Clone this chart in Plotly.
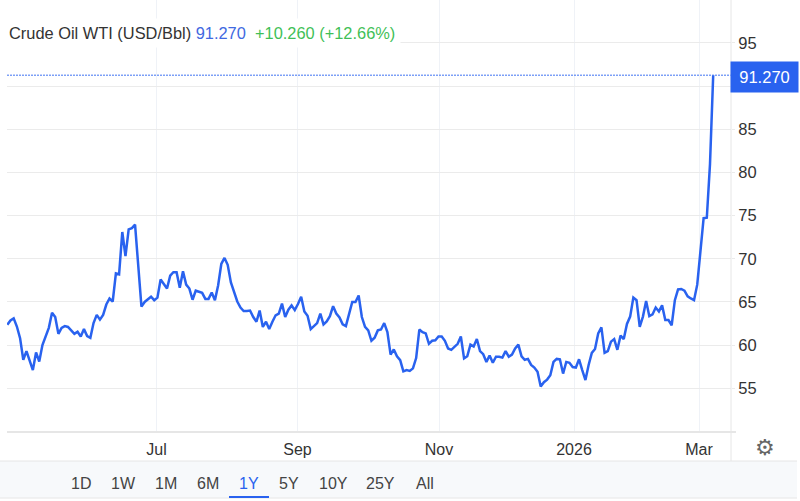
import plotly.graph_objects as go

W, H = 800, 501
LEFT, RIGHT, BOTTOM = 7, 731, 432

BLUE = '#2962ef'
GRID = '#ebebeb'
VGRID = '#eff2f7'
AXIS = '#e6e6e6'
TEXT = '#333333'

# daily close
values = [
    62.35, 62.85, 63.1, 62.15, 60.8, 58.3, 59.3, 58.3, 57.1, 59.15, 58.1, 60.0, 61.0, 62.0, 63.75, 63.25,
    61.3, 62.0, 62.2, 62.1, 61.7, 61.3, 61.55, 61.0, 61.85, 61.05, 60.85, 62.55, 63.5, 62.95, 63.5, 64.7,
    65.4, 65.05, 68.3, 68.2, 73.1, 70.3, 73.4, 73.55, 73.95, 68.7, 64.45, 65.0, 65.3, 65.6, 65.2, 65.5,
    67.6, 67.0, 66.55, 68.05, 68.45, 68.45, 66.65, 68.55, 67.0, 66.55, 65.25, 66.3, 66.15, 66.05, 65.35,
    65.35, 66.1, 65.2, 66.9, 69.4, 70.1, 69.3, 67.25, 66.2, 65.05, 64.35, 63.95, 63.95, 64.0, 63.25, 62.7,
    64.0, 62.1, 62.7, 61.85, 62.7, 63.45, 63.65, 64.8, 63.25, 64.1, 64.6, 64.05, 64.75, 65.6, 63.9, 63.4,
    61.85, 62.2, 62.55, 63.65, 62.4, 62.75, 63.35, 64.5, 63.65, 63.2, 62.4, 62.2, 63.45, 65.0, 65.0, 65.75,
    63.25, 62.1, 61.7, 60.5, 60.85, 61.7, 61.8, 62.55, 61.5, 58.9, 59.5, 58.7, 58.25, 56.95, 57.1, 57.0,
    57.3, 58.5, 61.8, 61.5, 61.35, 60.15, 60.5, 60.55, 61.0, 61.0, 60.5, 59.6, 59.45, 59.8, 60.15, 61.0,
    58.45, 58.7, 60.05, 59.85, 60.7, 59.3, 58.95, 58.05, 58.8, 57.95, 58.65, 58.65, 58.55, 59.3, 58.65,
    58.9, 59.6, 60.05, 58.7, 58.3, 58.4, 57.7, 57.4, 56.9, 55.2, 55.7, 56.0, 56.5, 58.05, 58.4, 58.35,
    56.7, 58.05, 57.95, 57.45, 57.4, 58.35, 57.1, 55.95, 57.7, 59.1, 59.55, 61.35, 62.05, 59.1, 59.3, 60.4,
    60.7, 59.45, 61.1, 60.7, 62.45, 63.3, 65.5, 65.2, 62.1, 63.3, 65.1, 63.35, 63.55, 64.35, 63.9, 64.6,
    62.9, 62.9, 62.3, 65.2, 66.45, 66.5, 66.3, 65.65, 65.4, 65.2, 67.0, 70.9, 74.7, 74.75, 81.0, 91.27,
]
tick_labels = ['Jul', 'Sep', 'Nov', '2026', 'Mar']
tick_pixels = [156.5, 297.5, 439, 574, 699]
y_ticks = [55, 60, 65, 70, 75, 80, 85, 90, 95]
y_labels = ['55', '60', '65', '70', '75', '80', '85', '', '95']
buttons = ['1D', '1W', '1M', '6M', '1Y', '5Y', '10Y', '25Y', 'All']
button_x = [81, 123, 166, 208, 249, 289, 333, 381, 425]

n = len(values)
x = list(range(n))
first_px, last_px = 7.3, 713.2
step = (last_px - first_px) / (n - 1)
x_range = [(LEFT - first_px) / step, (RIGHT - first_px) / step]
tick_pos = [(p - first_px) / step for p in tick_pixels]


def px(v):
    return (v - LEFT) / (RIGHT - LEFT)


def py(v):
    return (BOTTOM - v) / BOTTOM


fig = go.Figure()
fig.add_trace(go.Scatter(x=x, y=values, mode='lines', line=dict(color=BLUE, width=2.5), hoverinfo='skip'))

fig.update_xaxes(range=x_range, tickvals=tick_pos, ticktext=tick_labels, showgrid=True, gridcolor=VGRID,
                 gridwidth=1, zeroline=False, showline=False, ticks='outside', ticklen=3, tickcolor='rgba(0,0,0,0)',
                 tickfont=dict(family='Liberation Sans', size=16, color=TEXT))
fig.update_yaxes(range=[49.93, 99.98], side='right', tickvals=y_ticks, ticktext=y_labels, showgrid=True,
                 gridcolor=GRID, gridwidth=1.2, zeroline=False, showline=False, ticks='outside', ticklen=3,
                 tickcolor=GRID, tickfont=dict(family='Liberation Sans', size=16.5, color=TEXT))

shapes = [
    # price line at the last close
    dict(type='line', xref='paper', yref='y', x0=0, x1=1, y0=91.27, y1=91.27,
         line=dict(color='#3f73f2', width=1, dash='2px,1px')),
    # axis lines, they run past the plot area
    dict(type='line', xref='paper', yref='paper', x0=0, x1=px(736), y0=0, y1=0, line=dict(color=AXIS, width=2)),
    dict(type='line', xref='paper', yref='paper', x0=1, x1=1, y0=1, y1=py(461), line=dict(color=AXIS, width=1)),
    # range selector bar
    dict(type='rect', xref='paper', yref='paper', x0=px(0), x1=px(797), y0=py(461), y1=py(498),
         fillcolor='#f7f9fb', line=dict(width=0), layer='below'),
    dict(type='line', xref='paper', yref='paper', x0=px(0), x1=px(797), y0=py(461), y1=py(461), line=dict(color=AXIS, width=1)),
    dict(type='line', xref='paper', yref='paper', x0=px(0), x1=px(797), y0=py(498), y1=py(498), line=dict(color=AXIS, width=1)),
    dict(type='line', xref='paper', yref='paper', x0=px(229), x1=px(269), y0=py(497), y1=py(497), line=dict(color=BLUE, width=2)),
]

annotations = [
    dict(x=px(2.5), y=py(32.5), xref='paper', yref='paper', xanchor='left', yanchor='middle', showarrow=False,
         bgcolor='white', borderpad=5, font=dict(family='Liberation Sans', size=16.4, color=TEXT),
         text='Crude Oil WTI (USD/Bbl) <span style="color:#4169e1">91.270</span>'
              '  <span style="color:#3fbf57">+10.260 (+12.66%)</span>'),
    dict(x=px(764.5), y=py(77), xref='paper', yref='paper', xanchor='center', yanchor='middle', showarrow=False,
         width=65, height=28, bgcolor=BLUE, font=dict(family='Liberation Sans', size=16.5, color='white'), text='91.270'),
    dict(x=px(765), y=py(447), xref='paper', yref='paper', xanchor='center', yanchor='middle', showarrow=False,
         font=dict(family='DejaVu Sans', size=22, color='#666666'), text='\u2699'),
]
for label, bx in zip(buttons, button_x):
    annotations.append(dict(x=px(bx), y=py(483), xref='paper', yref='paper', xanchor='center', yanchor='middle',
                            showarrow=False, text=label,
                            font=dict(family='Liberation Sans', size=16, color=BLUE if label == '1Y' else '#444444')))

fig.update_layout(width=W, height=H, margin=dict(l=LEFT, r=W - RIGHT, t=0, b=H - BOTTOM), showlegend=False,
                  plot_bgcolor='white', paper_bgcolor='white', shapes=shapes, annotations=annotations)

fig.write_html("out.html", config=dict(displayModeBar=False), post_script="document.body.style.margin='0';")
